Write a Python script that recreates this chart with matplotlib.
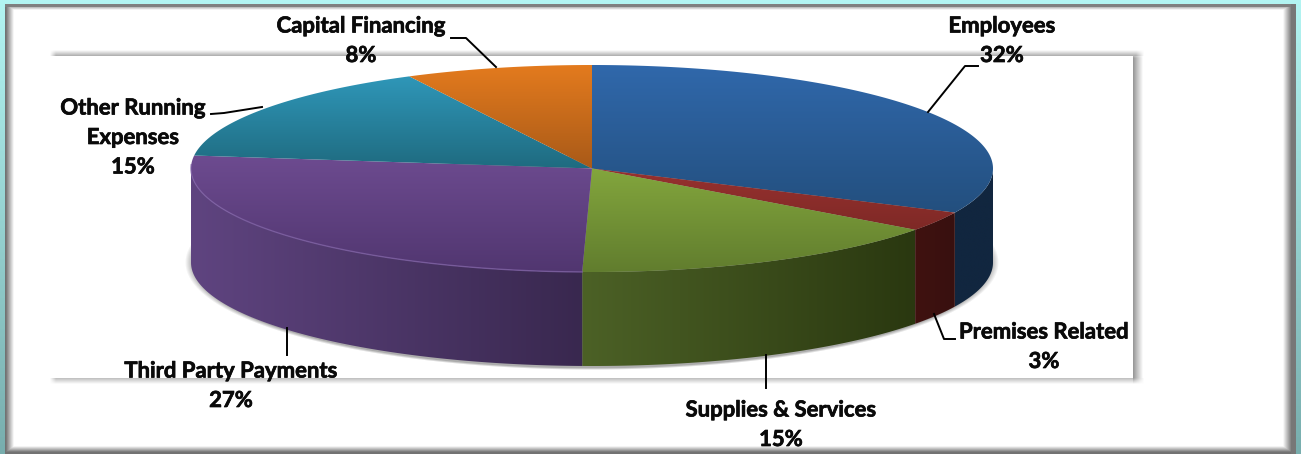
#!/usr/bin/env python3
import matplotlib
matplotlib.use('Agg')
import matplotlib.pyplot as plt
import matplotlib.patheffects as pe
import numpy as np
from matplotlib.colors import LinearSegmentedColormap
from matplotlib.patches import Polygon

# Budget shares, clockwise from twelve o'clock
categories = ['Employees', 'Premises Related', 'Supplies & Services',
              'Third Party Payments', 'Other Running\nExpenses', 'Capital Financing']
shares = [32, 3, 15, 27, 15, 8]

top_colours = [('#3068ab', '#234f7e'), ('#98312f', '#7e2926'), ('#83a63d', '#617d2e'),
               ('#6d4b90', '#513670'), ('#2f97b9', '#1f6b80'), ('#e47b1e', '#a95a18')]
side_colours = [('#11263f', '#11263f'), ('#40120f', '#381010'), ('#4c6126', '#2a3810'),
                ('#5f4480', '#39284f'), ('#2f97b9', '#206a80'), ('#e47b1e', '#ad5f1c')]

WIDTH, HEIGHT = 1301, 454
CX, CY = 592, 168.5
RX, RY = 401, 103.5
DEPTH = 94


def ramp(coord, start, end):
    return np.clip((coord - start) / (end - start), 0, 1)


def background():
    # Slide frame and chart area shadows, built up as a grey-level canvas
    xs, ys = np.meshgrid(np.arange(WIDTH) + 0.5, np.arange(HEIGHT) + 0.5)
    img = np.ones((HEIGHT, WIDTH, 3))

    # chart area: soft line along the top and bottom, shadow on the right
    inside_x = ramp(xs, 50, 56) * (1 - ramp(xs, 1136, 1144))
    top = ramp(ys, 50, 55.5) * (ys < 56) * inside_x
    bottom = (1 - ramp(ys, 377, 384)) * (ys >= 378) * inside_x
    right = (1 - ramp(xs, 1133, 1143)) * (xs >= 1133) * ramp(ys, 52, 58) * (1 - ramp(ys, 378, 384))
    shade = np.maximum.reduce([top * 0.3, bottom * 0.3, right * 0.42])
    img *= (1 - shade)[..., None]

    # inner bevel of the frame
    frame = np.maximum.reduce([(1 - ramp(xs, 6, 14)) * 0.55, (1 - ramp(ys, 5, 10)) * 0.5,
                               ramp(xs, 1283, 1291) * 0.5, ramp(ys, 446, 452) * 0.55])
    img *= (1 - frame)[..., None]

    # grey rim on the top and right of the frame
    img[(ys < 7) & (xs < 1296)] = 0.5
    img[(xs > 1291) & (xs < 1296)] = 0.47

    # surround: cyan that darkens to teal towards the bottom right
    fade = ramp(ys, 0, HEIGHT)[..., None]
    cyan = np.array([0.70, 0.96, 0.95]) * (1 - fade) + np.array([0.47, 0.68, 0.68]) * fade
    outer = (xs < 5) | (ys < 4) | (xs > 1296)
    img[outer] = cyan[outer]
    return img


def pie_shadow():
    # Soft grey halo behind the lower rim
    xs, ys = np.meshgrid(np.arange(WIDTH) + 0.5, np.arange(HEIGHT) + 0.5)
    dist = np.hypot((xs - CX) / (RX + 6), (ys - (CY + DEPTH)) / (RY + 4))
    alpha = np.clip((1.0 - dist) / 0.02, 0, 1) * 0.5
    rgba = np.zeros((HEIGHT, WIDTH, 4))
    rgba[..., :3] = 0.35
    rgba[..., 3] = alpha
    return rgba


# Small perspective correction of the disc, degrees added per view angle
warp_at = np.radians([0, 115, 126, 180, 277, 331, 360])
warp_by = np.radians([0, 0, 0.3, 1.4, 0, 1.7, 0])


def rim(theta, drop=0):
    phi = theta + np.interp(theta, warp_at, warp_by)
    return np.column_stack([CX + RX * np.sin(phi), CY - RY * np.cos(phi) + drop])


def gradient_fill(ax, verts, colours, extent, horizontal, zorder):
    cmap = LinearSegmentedColormap.from_list('fill', colours)
    values = np.linspace(0, 1, 256)
    grid = values[None, :] if horizontal else values[:, None]
    im = ax.imshow(grid, cmap=cmap, extent=extent, aspect='auto', zorder=zorder, interpolation='bilinear')
    patch = Polygon(verts, closed=True, transform=ax.transData, fc='none', ec='none')
    ax.add_patch(patch)
    im.set_clip_path(patch)


fig = plt.figure(figsize=(WIDTH / 100, HEIGHT / 100), dpi=100)
ax = fig.add_axes([0, 0, 1, 1])
ax.imshow(background(), extent=(0, WIDTH, HEIGHT, 0), aspect='auto', zorder=0, interpolation='nearest')
ax.imshow(pie_shadow(), extent=(0, WIDTH, HEIGHT, 0), aspect='auto', zorder=1, interpolation='bilinear')

# Slice boundaries as angles clockwise from the top
edges = np.radians(np.cumsum([0] + shares) * 3.6)
lo_vis, hi_vis = np.radians(90), np.radians(270)

for i in range(len(shares)):
    a, b = edges[i], edges[i + 1]
    # outer wall, only where the slice faces the viewer
    s, e = max(a, lo_vis), min(b, hi_vis)
    if e > s:
        t = np.linspace(s, e, 120)
        wall = np.vstack([rim(t), rim(t[::-1], DEPTH)])
        x0, x1 = wall[:, 0].min(), wall[:, 0].max()
        gradient_fill(ax, wall, side_colours[i], (x0, x1, CY + RY + DEPTH + 2, CY - 5), True, 2)

    # top face, each slice shaded over its own height
    t = np.linspace(a, b, 200)
    face = np.vstack([[CX, CY], rim(t)])
    gradient_fill(ax, face, top_colours[i], (CX - RX - 2, CX + RX + 2, face[:, 1].max(), face[:, 1].min()), False, 3)

# Light bevel along the front edge of the purple slice
t = np.linspace(edges[3], np.radians(272), 150)
bevel = rim(t)
ax.plot(bevel[:, 0], bevel[:, 1], color='#7d5fa3', lw=1.0, alpha=0.8, zorder=4)

# Data labels with their leader lines
label_pos = [(1002, 26), (1044, 332), (781, 410), (231, 371), (133, 108), (361, 26)]
leaders = [[(978, 66), (965, 66), (928, 112)],
           [(934, 314), (944, 339), (955, 339)],
           [(766, 355), (766, 388)],
           [(287, 328), (287, 355)],
           [(211, 114), (224, 113), (262, 107)],
           [(451, 38), (466, 38), (496, 67)]]
line_gap = 29.5

for name, share, (lx, ly), leader in zip(categories, shares, label_pos, leaders):
    lines = name.split('\n') + [f'{share}%']
    for n, text in enumerate(lines):
        ax.text(lx, ly + n * line_gap, text, ha='center', va='center', family='Lato',
                fontweight='bold', fontsize=15.9, color='#0a0a0a', zorder=6,
                path_effects=[pe.withStroke(linewidth=0.5, foreground='#0a0a0a')])
    pts = np.array(leader)
    ax.plot(pts[:, 0], pts[:, 1], color='black', lw=1.4, zorder=5, solid_joinstyle='round')

ax.set_xlim(0, WIDTH)
ax.set_ylim(HEIGHT, 0)
ax.axis('off')

fig.savefig('out.png', dpi=100)
